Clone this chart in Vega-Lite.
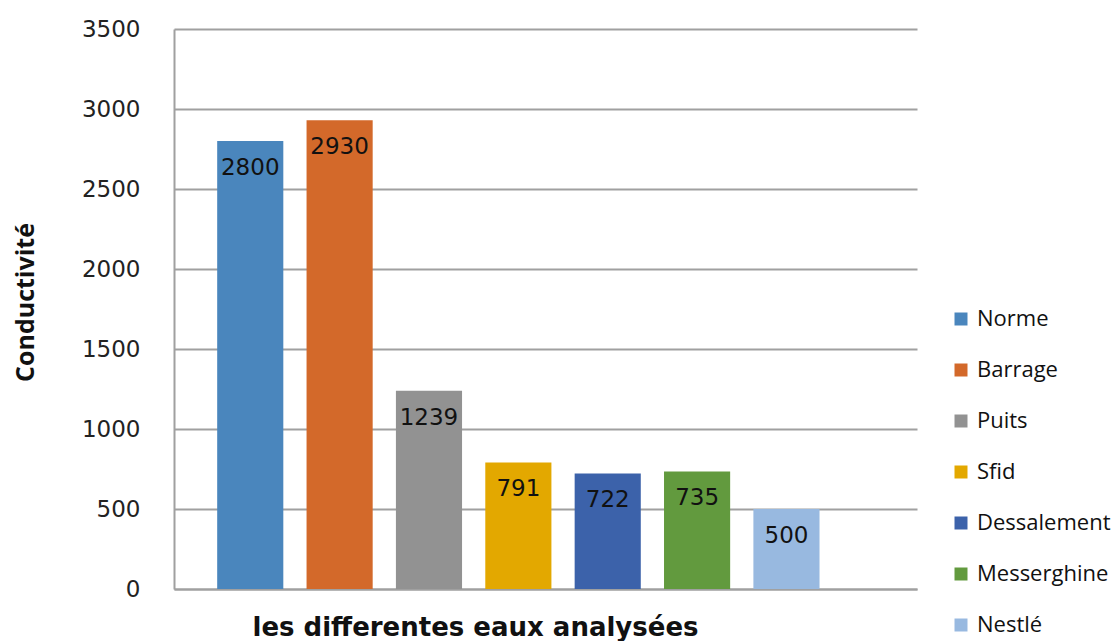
{
  "$schema": "https://vega.github.io/schema/vega-lite/v6.json",
  "width": 743,
  "height": 560,
  "autosize": {"type": "none"},
  "padding": {"left": 174, "top": 29, "right": 198, "bottom": 52},
  "background": "white",
  "config": {"view": {"stroke": null}, "font": "DejaVu Sans"},
  "data": {
    "values": [
      {"eau": "Norme", "conductivite": 2800},
      {"eau": "Barrage", "conductivite": 2930},
      {"eau": "Puits", "conductivite": 1239},
      {"eau": "Sfid", "conductivite": 791},
      {"eau": "Dessalement", "conductivite": 722},
      {"eau": "Messerghine", "conductivite": 735},
      {"eau": "Nestlé", "conductivite": 500}
    ]
  },
  "encoding": {
    "x": {
      "field": "eau",
      "type": "nominal",
      "sort": null,
      "scale": {"paddingInner": 0.26, "paddingOuter": 0.787, "align": 0.307},
      "axis": {
        "title": "les differentes eaux analysées",
        "labels": false,
        "ticks": false,
        "domainColor": "#a0a0a0",
        "domainWidth": 2,
        "titleFont": "DejaVu Sans",
        "titleFontWeight": "bold",
        "titleFontSize": 26,
        "titleColor": "#111111",
        "titleX": 301,
        "titleY": 38,
        "titleAlign": "center",
        "titleBaseline": "middle"
      }
    },
    "y": {
      "field": "conductivite",
      "type": "quantitative",
      "scale": {"domain": [0, 3500]},
      "axis": {
        "values": [0, 500, 1000, 1500, 2000, 2500, 3000, 3500],
        "format": "d",
        "grid": true,
        "gridColor": "#a0a0a0",
        "gridWidth": 2,
        "domainColor": "#a0a0a0",
        "domainWidth": 2,
        "ticks": false,
        "labelPadding": 34,
        "labelFontSize": 23,
        "labelColor": "#222222",
        "labelFont": "DejaVu Sans",
        "title": "Conductivité",
        "titleFont": "Open Sans",
        "titleFontWeight": "bold",
        "titleFontSize": 25,
        "titleColor": "#111111",
        "titleAngle": -90,
        "titleX": -149,
        "titleY": 273,
        "titleAlign": "center",
        "titleBaseline": "middle"
      }
    }
  },
  "layer": [
    {
      "mark": {"type": "bar"},
      "encoding": {
        "color": {
          "field": "eau",
          "type": "nominal",
          "sort": null,
          "scale": {
            "domain": ["Norme", "Barrage", "Puits", "Sfid", "Dessalement", "Messerghine", "Nestlé"],
            "range": ["#4a86bd", "#d3692a", "#929292", "#e3a800", "#3c62aa", "#629a3e", "#98b9e0"]
          },
          "legend": {
            "title": null,
            "orient": "none",
            "legendX": 776,
            "legendY": 279,
            "symbolType": "square",
            "symbolSize": 169,
            "symbolStrokeWidth": 0,
            "labelFont": "Open Sans",
            "labelFontSize": 22,
            "labelColor": "#111111",
            "labelOffset": 5,
            "rowPadding": 29
          }
        }
      }
    },
    {
      "mark": {"type": "text", "baseline": "middle", "dy": 27, "fontSize": 23, "color": "#111111", "font": "DejaVu Sans"},
      "encoding": {"text": {"field": "conductivite", "type": "quantitative", "format": "d"}}
    }
  ]
}
